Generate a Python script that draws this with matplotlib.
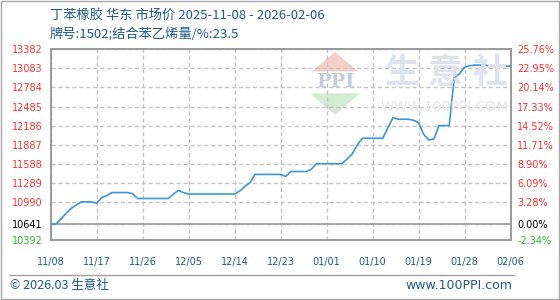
import numpy as np
import matplotlib
matplotlib.use('Agg')
import matplotlib.pyplot as plt
from matplotlib.patches import Polygon, Rectangle
from matplotlib.lines import Line2D

# Données
title_1 = '丁苯橡胶 华东 市场价 2025-11-08 - 2026-02-06'
title_2 = '牌号:1502;结合苯乙烯量/%:23.5'

prix = [10641, 10641, 10720, 10810, 10887, 10940, 10990, 10990, 10990, 10967,
        11058, 11090, 11136, 11136, 11136, 11136, 11120, 11043, 11043, 11043,
        11043, 11043, 11043, 11043, 11110, 11170, 11135, 11113, 11113, 11113,
        11113, 11113, 11113, 11113, 11113, 11113, 11113, 11160, 11233, 11290,
        11420, 11420, 11420, 11420, 11420, 11420, 11389, 11466, 11466, 11466,
        11466, 11500, 11588, 11588, 11588, 11588, 11588, 11588, 11660, 11740,
        11880, 11987, 11987, 11987, 11987, 11987, 12150, 12311, 12285, 12285,
        12285, 12270, 12233, 12050, 11960, 11976, 12186, 12186, 12186, 12935,
        13000, 13100, 13125, 13134, 13134, 13134, 13119, 13119, 13119, 13119,
        13119]

niveaux = [13382, 13083, 12784, 12485, 12186, 11887, 11588, 11289, 10990, 10641, 10392]
base = 10641
labels_x = ['11/08', '11/17', '11/26', '12/05', '12/14', '12/23',
            '01/01', '01/10', '01/19', '01/28', '02/06']

W, H = 560, 300
cjk = ['Noto Sans CJK SC', 'DejaVu Sans']
bleu_texte = '#1f5a8c'

def fx(px):
    return px / W

def fy(py):
    return 1 - py / H

fig = plt.figure(figsize=(W / 100, H / 100), dpi=100)
fig.patch.set_facecolor('white')

# zone du graphique en pixels
gauche, droite, haut, bas = 50.7, 510.5, 49.3, 240.0
ax = fig.add_axes([fx(gauche), fy(bas), fx(droite - gauche), (bas - haut) / H])

# filigrane
couleurs_logo = {'rouge': '#f6d0c8', 'vert': '#d3ebd2', 'bleu': '#c4cce0'}
fig.add_artist(Polygon([[fx(335), fy(52)], [fx(311.5), fy(71.5)], [fx(358.5), fy(71.5)]],
                       closed=True, transform=fig.transFigure, color=couleurs_logo['rouge'], lw=0, zorder=0))
fig.add_artist(Polygon([[fx(310.5), fy(93.5)], [fx(360), fy(93.5)], [fx(335), fy(115)]],
                       closed=True, transform=fig.transFigure, color=couleurs_logo['vert'], lw=0, zorder=0))
fig.text(fx(335), fy(82), 'PPI', fontsize=14, fontweight='bold', family='DejaVu Serif',
         color=couleurs_logo['bleu'], ha='center', va='center', zorder=0)
for c, xc in zip('生意社', [402, 445, 490]):
    fig.text(fx(xc), fy(72), c, fontsize=25, family=cjk, fontweight='bold',
             color='#dde2ed', ha='center', va='center', zorder=0)
fig.text(fx(445), fy(107), 'WWW.100PPI.COM', fontsize=10, color='#e6e6e6',
         ha='center', va='center', zorder=0)
ax.patch.set_alpha(0)

jours = np.arange(len(prix))
ax.plot(jours, prix, color='#3c97d6', lw=1.2, zorder=3)
ax.axhline(base, color='#a0a0a0', lw=1.3, zorder=2)

ax.set_xlim(0, len(prix) - 1)
ax.set_ylim(niveaux[-1], niveaux[0])
ax.set_xticks(jours[::9])
ax.set_xticklabels(labels_x, fontsize=7, color=bleu_texte)
ax.set_yticks(niveaux)
ax.set_yticklabels([str(v) for v in niveaux], fontsize=7)
for lab, v in zip(ax.get_yticklabels(), niveaux):
    lab.set_color('#000000' if v == base else ('#2db82d' if v < base else '#ff3030'))
ax.tick_params(length=0, pad=6)
ax.tick_params(axis='x', pad=12)
ax.grid(True, color='#c4c4c4', ls=(0, (3, 2)), lw=1)
for s in ax.spines.values():
    s.set_color('#9a9a9a')
    s.set_linewidth(1.4)

ax2 = ax.twinx()
ax2.set_ylim(ax.get_ylim())
ax2.set_yticks(niveaux)
ax2.set_yticklabels(['%.2f%%' % ((v / base - 1) * 100) for v in niveaux], fontsize=7)
for lab, v in zip(ax2.get_yticklabels(), niveaux):
    lab.set_color('#000000' if v == base else ('#2db82d' if v < base else '#ff3030'))
ax2.tick_params(length=0, pad=5)
for s in ax2.spines.values():
    s.set_visible(False)

# titres
fig.text(fx(50), fy(15), title_1, fontsize=9.5, family=cjk, color=bleu_texte, va='center')
fig.text(fx(50), fy(34), title_2, fontsize=9.5, family=cjk, color=bleu_texte, va='center')

# pied de page
fig.add_artist(Line2D([fx(10), fx(514)], [fy(275), fy(275)], transform=fig.transFigure,
                      color='#a0a0a0', lw=1))
fig.text(fx(10), fy(285.5), '© 2026.03 生意社', fontsize=9, family=cjk, color=bleu_texte, va='center')
fig.text(fx(512), fy(285.5), 'www.100PPI.com', fontsize=9, color=bleu_texte, va='center', ha='right')

# cadre extérieur
fig.add_artist(Rectangle((0.001, 0.002), 0.997, 0.996, transform=fig.transFigure,
                         fill=False, edgecolor='#a8a8a8', lw=1))

fig.savefig('out.png', dpi=100)
